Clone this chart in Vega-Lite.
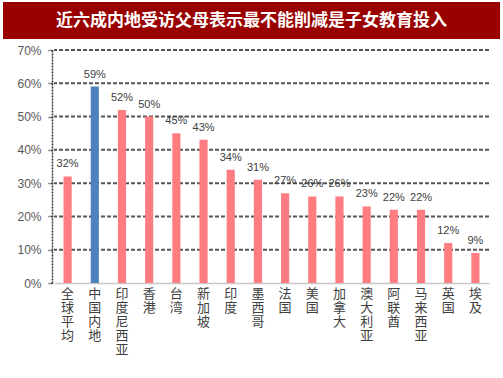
{
  "$schema": "https://vega.github.io/schema/vega-lite/v6.json",
  "padding": {"left": 3, "top": 2, "right": 3, "bottom": 0},
  "background": "white",
  "spacing": 5,
  "config": {"view": {"stroke": null}},
  "datasets": {
    "grid": [{"g": 0.1}, {"g": 0.2}, {"g": 0.3}, {"g": 0.4}, {"g": 0.5}, {"g": 0.6}, {"g": 0.7}],
    "bars": [
      {"country": "全球平均", "value": 0.32, "group": "other"},
      {"country": "中国内地", "value": 0.59, "group": "china"},
      {"country": "印度尼西亚", "value": 0.52, "group": "other"},
      {"country": "香港", "value": 0.50, "group": "other"},
      {"country": "台湾", "value": 0.45, "group": "other"},
      {"country": "新加坡", "value": 0.43, "group": "other"},
      {"country": "印度", "value": 0.34, "group": "other"},
      {"country": "墨西哥", "value": 0.31, "group": "other"},
      {"country": "法国", "value": 0.27, "group": "other"},
      {"country": "美国", "value": 0.26, "group": "other"},
      {"country": "加拿大", "value": 0.26, "group": "other"},
      {"country": "澳大利亚", "value": 0.23, "group": "other"},
      {"country": "阿联酋", "value": 0.22, "group": "other"},
      {"country": "马来西亚", "value": 0.22, "group": "other"},
      {"country": "英国", "value": 0.12, "group": "other"},
      {"country": "埃及", "value": 0.09, "group": "other"}
    ]
  },
  "vconcat": [
    {
      "width": 497,
      "height": 37,
      "view": {"fill": "#990000", "stroke": null},
      "data": {"values": [{"t": "近六成内地受访父母表示最不能削减是子女教育投入"}]},
      "mark": {"type": "text", "color": "white", "fontSize": 17, "fontWeight": "bold", "font": "Noto Sans CJK SC", "baseline": "middle", "align": "center"},
      "encoding": {"text": {"field": "t"}}
    },
    {
      "spacing": 0,
      "resolve": {"scale": {"y": "independent"}},
      "hconcat": [
        {
          "width": 49,
          "height": 233,
          "data": {"name": "grid"},
          "mark": {"type": "rule", "opacity": 0},
          "encoding": {
            "y": {
              "field": "g", "type": "quantitative",
              "scale": {"domain": [0, 0.7], "nice": false},
              "axis": {
                "title": null, "offset": -49, "grid": false,
                "format": ".0%", "values": [0, 0.1, 0.2, 0.3, 0.4, 0.5, 0.6, 0.7],
                "labelFont": "Liberation Sans", "labelFontSize": 12, "labelColor": "#595959", "labelPadding": 7,
                "tickSize": 4, "tickColor": "#333333", "tickDash": [2, 1], "tickWidth": 1.5,
                "domainColor": "#333333", "domainDash": [2, 1], "domainWidth": 1.5
              }
            }
          }
        },
        {
          "width": 435,
          "height": 233,
          "layer": [
            {
              "data": {"name": "grid"},
              "mark": {"type": "rule", "color": "#555555", "strokeDash": [4, 2], "strokeWidth": 2, "opacity": 1},
              "encoding": {
                "y": {"field": "g", "type": "quantitative", "scale": {"domain": [0, 0.7], "nice": false}, "axis": null}
              }
            },
            {
              "data": {"name": "bars"},
              "mark": {"type": "bar"},
              "encoding": {
                "x": {
                  "field": "country", "type": "nominal", "sort": null,
                  "scale": {"paddingInner": 0.7, "paddingOuter": 0.35},
                  "axis": {
                    "title": null, "labelAngle": 0, "labelExpr": "split(datum.label, '')",
                    "labelFont": "Noto Sans CJK SC", "labelFontSize": 13, "labelLineHeight": 14,
                    "labelBaseline": "top", "labelPadding": 4, "labelColor": "#404040",
                    "ticks": false, "domain": true, "domainColor": "#c8c8c8", "domainWidth": 1.5
                  }
                },
                "y": {"field": "value", "type": "quantitative", "axis": null},
                "color": {"field": "group", "type": "nominal", "scale": {"domain": ["other", "china"], "range": ["#FF7C80", "#4F81BD"]}, "legend": null}
              }
            },
            {
              "data": {"name": "bars"},
              "mark": {"type": "text", "baseline": "bottom", "dy": -7, "fontSize": 11, "font": "Liberation Sans", "color": "#404040"},
              "encoding": {
                "x": {"field": "country", "type": "nominal", "sort": null},
                "y": {"field": "value", "type": "quantitative", "axis": null},
                "text": {"field": "value", "type": "quantitative", "format": ".0%"}
              }
            }
          ]
        }
      ]
    }
  ]
}
